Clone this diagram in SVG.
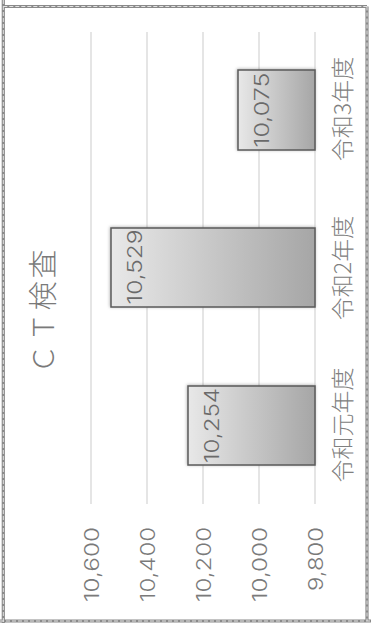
<svg xmlns="http://www.w3.org/2000/svg" width="371" height="623" viewBox="0 0 371 623">
<defs>
<linearGradient id="barGrad" x1="0" y1="0" x2="1" y2="0">
<stop offset="0" stop-color="#e8e8e8"/>
<stop offset="1" stop-color="#a6a6a6"/>
</linearGradient>
<filter id="shadow" x="-20%" y="-20%" width="140%" height="140%">
<feDropShadow dx="-0.5" dy="-0.5" stdDeviation="1.5" flood-color="#000" flood-opacity="0.3"/>
</filter>
<style>
.frame{fill:none;stroke:#8a8a8a;stroke-width:3.2}
.frameDash{fill:none;stroke:#e2e2e2;stroke-width:1;stroke-dasharray:4 2}
.grid{stroke:#d4d4d4;stroke-width:1.2}
.bar{fill:url(#barGrad);stroke:#5a5a5a;stroke-width:1.5;filter:url(#shadow)}
.num{font-family:Inter,"Liberation Sans",Arial,sans-serif;font-size:20px;font-weight:300;fill:#7a7a7a}
.dlab{font-family:Inter,"Liberation Sans",Arial,sans-serif;font-size:20px;font-weight:300;fill:#6a6a6a;text-anchor:middle}
.cat{font-family:"Noto Sans CJK JP","Noto Sans",sans-serif;font-size:23px;fill:#808080;text-anchor:middle;font-weight:300}
.title{font-family:"Noto Sans CJK JP","Noto Sans",sans-serif;font-size:29px;fill:#7a7a7a;text-anchor:middle;font-weight:300}
</style>
</defs>
<rect width="371" height="623" fill="#ffffff"/>
<g id="frame">
<path class="frame" d="M3.3,0 V623 M3.3,6.5 H367 M367,6.5 V621 M0,621 H371"/>
<path class="frameDash" d="M3.3,0 V623 M3.3,6.5 H367 M367,6.5 V621 M0,621 H371"/>
</g>
<g id="gridlines">
<line class="grid" x1="91" y1="32" x2="91" y2="504"/>
<line class="grid" x1="147" y1="32" x2="147" y2="504"/>
<line class="grid" x1="203" y1="32" x2="203" y2="504"/>
<line class="grid" x1="259" y1="32" x2="259" y2="504"/>
<line class="grid" x1="315" y1="32" x2="315" y2="504"/>
</g>
<g id="axis-labels">
<text class="num" text-anchor="end" transform="translate(98.5,527) rotate(-90)" textLength="75" lengthAdjust="spacingAndGlyphs">10,600</text>
<text class="num" text-anchor="end" transform="translate(154.5,527) rotate(-90)" textLength="75" lengthAdjust="spacingAndGlyphs">10,400</text>
<text class="num" text-anchor="end" transform="translate(210.5,527) rotate(-90)" textLength="75" lengthAdjust="spacingAndGlyphs">10,200</text>
<text class="num" text-anchor="end" transform="translate(266.5,527) rotate(-90)" textLength="75" lengthAdjust="spacingAndGlyphs">10,000</text>
<text class="num" text-anchor="end" transform="translate(322.5,527) rotate(-90)" textLength="64" lengthAdjust="spacingAndGlyphs">9,800</text>
</g>
<g id="bar-r1">
<rect class="bar" x="188" y="386" width="127" height="79"/>
<text class="dlab" transform="translate(218.5,425.5) rotate(-90)" textLength="75" lengthAdjust="spacingAndGlyphs">10,254</text>
</g>
<g id="bar-r2">
<rect class="bar" x="111" y="228" width="204" height="79"/>
<text class="dlab" transform="translate(141.5,267) rotate(-90)" textLength="75" lengthAdjust="spacingAndGlyphs">10,529</text>
</g>
<g id="bar-r3">
<rect class="bar" x="238" y="70" width="77" height="80"/>
<text class="dlab" transform="translate(269,110) rotate(-90)" textLength="75" lengthAdjust="spacingAndGlyphs">10,075</text>
</g>
<g id="category-labels">
<text class="cat" transform="translate(351,425) rotate(-90)">令和元年度</text>
<text class="cat" transform="translate(351,268) rotate(-90)">令和2年度</text>
<text class="cat" transform="translate(351,109) rotate(-90)">令和3年度</text>
</g>
<g id="title">
<text class="title" transform="translate(54,311.5) rotate(-90)" textLength="124" lengthAdjust="spacing">ＣＴ検査</text>
</g>
</svg>
